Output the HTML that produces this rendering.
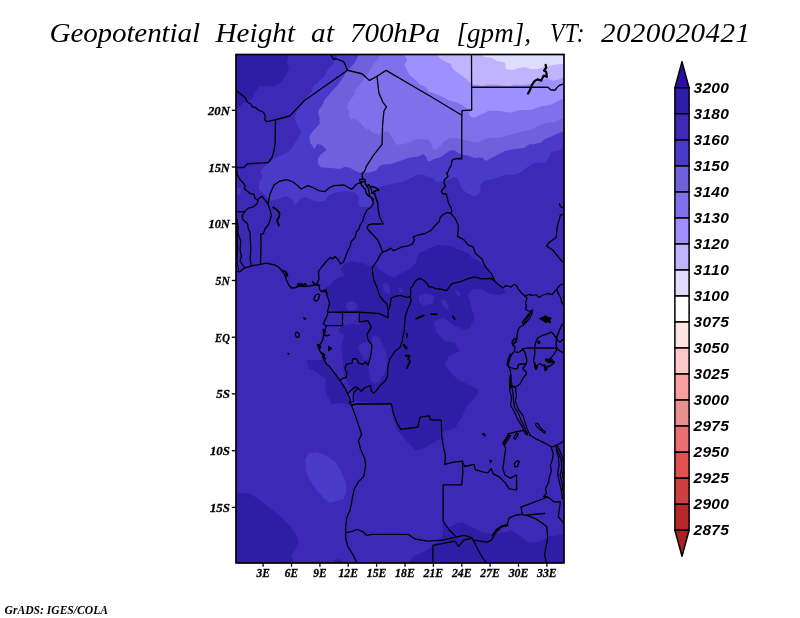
<!DOCTYPE html>
<html lang="en"><head><meta charset="utf-8"><title>Geopotential Height at 700hPa</title>
<style>
html,body{margin:0;padding:0;background:#fff;}
body{width:800px;height:618px;overflow:hidden;}
svg{display:block;}
.ttl{font-family:"Liberation Serif","DejaVu Serif",serif;font-style:italic;font-size:26.5px;fill:#000;}
.ax{font-family:"Liberation Serif","DejaVu Serif",serif;font-style:italic;font-weight:bold;font-size:13px;fill:#000;stroke:#000;stroke-width:0.3px;}
.cb{font-family:"Liberation Sans","DejaVu Sans",sans-serif;font-style:italic;font-weight:bold;font-size:15.5px;fill:#000;}
.ft{font-family:"Liberation Serif","DejaVu Serif",serif;font-style:italic;font-weight:bold;font-size:12.5px;fill:#000;}
</style></head><body>
<svg width="800" height="618" viewBox="0 0 800 618">
<rect x="0" y="0" width="800" height="618" fill="#fff"/>

<g class="ttl">
<text transform="translate(49.5,42) scale(1.1,1)" x="0" y="0" textLength="136.82" lengthAdjust="spacing">Geopotential</text>
<text transform="translate(215.5,42) scale(1.1,1)" x="0" y="0" textLength="72.27" lengthAdjust="spacing">Height</text>
<text transform="translate(311,42) scale(1.1,1)" x="0" y="0" textLength="20.91" lengthAdjust="spacing">at</text>
<text transform="translate(350,42) scale(1.1,1)" x="0" y="0" textLength="81.82" lengthAdjust="spacing">700hPa</text>
<text transform="translate(456.5,42) scale(1.02,1)" x="0" y="0" textLength="73.04" lengthAdjust="spacing">[gpm],</text>
<text transform="translate(550,42) scale(0.88,1)" x="0" y="0" textLength="39.20" lengthAdjust="spacing">VT:</text>
<text transform="translate(601,42) scale(1.1,1)" x="0" y="0" textLength="135.45" lengthAdjust="spacing">2020020421</text>
</g>
<clipPath id="mc"><rect x="236.0" y="54.5" width="328.0" height="508.5"/></clipPath>
<g clip-path="url(#mc)">
<rect x="236.0" y="54.5" width="328.0" height="508.5" fill="#3e29b7"/>
<polygon fill="#2e1ea6" points="235,54 289,54 287,62.5 289,69 286,75 282,81 277,85 271,86.5 259,86.5 255,92.5 251,100 246,101 240,106 235,111"/>
<polygon fill="#2e1ea6" points="344,264 351,261 363.7,263.8 371.2,266.6 376,265 379,269 384,272.5 389,276 395,277.5 399,274 406,271 411,267.5 416,262.5 417.5,256 420,252.5 425,251 431,247.5 437.5,245 450,246 457.5,249 462.5,251 470,254 470.1,256.6 478.6,260.9 485,267.2 491.4,275.7 495.6,282.1 502,288.5 506.2,292.7 499.9,294.9 489.2,293.8 480.7,288.5 472.3,289.6 468,294.9 470,302.7 474.4,317.6 470,328 463.7,329.3 455.2,326 442.5,317.6 434,321.9 436,332.5 444.6,341 455.2,343 459.5,351.6 448.9,355.9 444.6,364.4 451,372.9 457.4,379.2 470,385.6 478.6,389.9 476.2,396.4 467.7,404.9 461.4,417.6 455,428.2 442.2,432.5 440,438.9 425.2,447.4 415.7,450.6 408.2,443.1 397.6,430.4 393.4,419.7 391.4,403.6 368,402.5 355.2,400.4 351,387.6 344.6,377 342.5,362 350,362.5 358.75,361.25 362.5,360 371,359 372,350 372,342.5 367,339 367.5,333.75 372,327.5 370,323.75 365,325 362.5,328.75 360,325 360,313 342.5,312.2 329.7,310 329.5,303 328,297 325.5,292.5 322.5,290 326,287.5 330,285 334,280 337,278 341,276.5 345,277 343,273 340,269"/>
<polygon fill="#2e1ea6" points="338.75,328.75 343.75,325 352.5,323.75 360,325 362.5,328.75 365,325 370,323.75 372,327.5 367.5,333.75 366.25,338.75 367.5,341.25 360,343.75 358.1,347.5 361.25,352.5 365,356.25 362.5,360 358.75,361.25 355,358 352.5,360 350,362.5 345,363.75 342.5,360 341.9,352.5 341.25,347.5 342.5,341.25 345,336.25 341.25,333.75 338.75,331.25"/>
<polygon fill="#2e1ea6" points="306.4,360 308.5,368.5 317,372.7 325.5,379 325.5,392 331.9,404.6 342.5,402.5 350,405.7 346.7,392 338.2,379 329.7,368.5 323.4,360"/>
<polygon fill="#2e1ea6" points="235,492.3 249,493.4 259.6,499.7 270.2,508.2 280.9,516.7 289.4,525.2 295.7,533.7 298.9,542.2 295.7,548.6 291.5,555 293.6,564 235,564"/>
<polygon fill="#2e1ea6" points="442.5,521 448.9,527.4 456,523.75 462,522.25 466.5,524.5 472.5,527.5 478.5,530.5 486,533.5 493.5,533.5 507,532 511.5,529.75 516,533.5 522,537.25 526.5,541.75 534,542.5 543,540.25 549,535 553.5,536.5 559.5,534.25 565,535 565,564 408.5,564 412.7,557.1 425.5,550.7 434,544.4 442.5,535.9"/>
<polygon fill="#2e1ea6" points="332,564 334,560 339,559 343,561 344,564"/>
<polygon fill="#3e29b7" points="346,303 352,301 357,304 357,309 350,311 346,308"/>
<polygon fill="#3e29b7" points="372.5,336 379,337 382,344 386,352 387.5,362.5 385,372.5 380,381 375,384 370,380 368.5,372 368.5,365 370.5,358 372,350 372,342"/>
<polygon fill="#3e29b7" points="359,346 365,344 371,345 371,357 365,359 361,355 358.5,350"/>
<polygon fill="#3e29b7" points="419,296 426,293 434,296 433,303 424,306 419,302"/>
<polygon fill="#3e29b7" points="382.5,284 387,283 390,288 390,294 386,293 383,289"/>
<polygon fill="#3e29b7" points="398,287.5 401,287 403.5,290 402,293 399,291.5"/>
<polygon fill="#3e29b7" points="441,299 445,300 449,306 448,310 444,307 441.5,303"/>
<polygon fill="#3e29b7" points="455,290 458,291 461,295 459,296.5 456,294"/>
<polygon fill="#4a3aca" points="338,54 336,59 332,65 327,70 325,76 318,82 313,86 312,91 308,95.6 304.5,100 300,106 297,111 295,117 296,123 299,128 301.4,132.5 297,140 293,146 289.5,151 282,155 274.5,158 269.5,162.5 264,167 260,171 262.6,176 259,182 259,190 266,196 270,201 278,199 286,196 293,200 295,206 300,199 305,197 312,200 318,202 325,201 328,196 334,193 344,191 354,192 358.9,196.9 358.25,203.75 360.75,206.9 368.25,206.9 373.25,203.75 373,196 376,190 380,187 384.5,185.5 392,184 399.5,182.5 407,180 412,177.5 418,174.4 424.5,175 428,177.5 432,177.5 437,182.5 442,181 448,180 453,177.5 457.6,177.5 460,184 462,189 467,193 473,196 478,195 481,190 480,185 484.5,181 491,179.4 498,177.5 505,175 515,174.4 521,172 527.5,167 534,163 545,162.5 549,157.5 551,152 559,150.6 565,146 565,53"/>
<polygon fill="#4a3aca" points="236,188 239,187.5 241,190 240,194 237,195 236,193"/>
<polygon fill="#4a3aca" points="305.3,459.4 308.5,453 317,451.9 327.6,456.2 336.1,462.6 341.4,472.1 345.7,481.7 346.7,491.2 343.6,498.7 337.2,500.8 329.7,502.9 323.4,497.6 317,490.2 310.6,481.7 306.4,472.1"/>
<polygon fill="#7060dc" points="359,54 355.75,61 352,66 348,70 342,79 338,85 332,91 328,96 324.5,100 322,106 319.5,109 318,112.5 319.5,117.5 319.5,124 313,131 309.5,136 310,142.5 314.5,149 317,144 322,145 327,150 321,154 318,159 318,164 321,167.5 332,168 339.5,169 344.5,167 349.5,167.5 354.5,170.6 359.5,172.5 362,173 369.5,172.5 376,170.6 379.5,166 383,164.4 391,164 397,162 404,159.5 410,157.5 418,156.5 423,154 426,156.5 427,160 429,161.5 434,159 441,157 445,154 449,151 454,150 458,153 462,154.5 468,155.5 474.5,158 482,157.5 486,161 491,158 498,154.4 506,150.6 515,149 524,148 530,144 532.5,144.4 541,142.5 545,139 552.5,136 559,133 565,131 565,53"/>
<polygon fill="#8070ec" points="380,54 378,59 373,65 369.5,71 366,76 363,80 359,86 355,90 355,94 351,99 347.6,104 347,107.5 349,111 349,116 351,120 354,118 359,121 362,125 364.5,128 369.5,130 373,133 381,134 386,131 389.5,132.5 391,136 393,139 396,144.5 402,144.5 408,143 415,139.5 422,139 429,140 431.5,144 433,149 436,150 440,146.5 444,141.5 449,138.5 456,138 462,139.5 468,140.5 472,141.5 474.5,142.5 479.5,142 484.5,139 492,137.5 500,137.5 507.5,135.6 516,133 525,131 532.5,129 540,125 547.5,122.5 554,122 560,119.4 565,118 565,53"/>
<polygon fill="#a090ff" points="404,54 407,60 404.5,65 409.5,75 414.5,79 419.5,84 426,87.5 429,92 432,92.5 436,94 441,96 448,100 457,102.5 462,105 467,109 469.5,110 469,114 471,117 474.5,117.5 479.5,115 484.5,113 488,111 500,111 505,112 511,112.5 516,111 521,110 531,110 537.5,107.5 542.5,106 550,105 555,102.5 560,100 565,98 565,53"/>
<polygon fill="#c0b4ff" points="436,54 441,59 446,62 451,64 452,67.5 455,71 461,75 467,79.5 471,83 473,84.5 478,85 482,86 487,84.5 492,84.5 500,85 507.5,86 515,84.4 522.5,85 531,83.75 537.5,82 542.5,80 547.5,78 552.5,80.6 557.5,80 565,77 565,53"/>
<polygon fill="#e0dcff" points="481,54 484.5,57 491,57.5 497,61 505,62.5 506,69 512.5,70 519,68 525,67 531,69 537.5,69 544,67 550,65.6 556,64.4 565,63.75 565,53"/>
<g fill="none" stroke="#000" stroke-width="1.3" stroke-linejoin="round" stroke-linecap="round">
<polyline points="235.75,90.5 241,94.25 245.5,98 247,101.75 250.75,104 252.25,106.7 256,107.75 258.25,110 263.5,112.25 265.3,116 264.7,119.75 266.8,121.7 275.5,119.75 289.75,116 304.75,100.25 347.5,70.25"/>
<polyline points="330.25,54 333.25,59 337,59 343.75,61.7 347.5,70.25 362,73.75 369.5,80.4 377,76.25 386.1,70.4 432,97.25 461.4,115"/>
<polyline points="377,76.25 378.9,93.1 382,100 382.6,101.9 386.4,106.9 383.9,111.25 382.6,125 382,144.4 373.25,155.6 366.4,166.25 365,170 364,172 362.25,173 362.25,176 362.75,178.5"/>
<polyline points="471.5,54 471.7,110 462,110.6 461.75,125 461.75,158"/>
<polyline points="471.7,87.25 548,87.25 550.6,89.75 555,90.25 557.5,86.9 560,85 564,84"/>
<polyline stroke-width="2.2" points="545.6,64.75 546.25,67.5 544,70.6 546.25,71.9 546.9,76.9 543.75,75.6 541.25,80.6 537.5,79.4 534.4,81.25 531.9,85 530,90 528.1,93.5"/>
<polyline points="275.5,119.75 275.1,143.75 273.9,151.25 272,157.5 268.25,162.5 263.25,162.9 247.6,163.75 243.9,167.5 235.75,167.5"/>
<polyline points="236.4,167.5 237,173.75 239.5,178.75 243.9,183.75 245.1,186.25 244.5,188.75 249.5,193.1 253.9,194.4 255.1,198.75 258.25,200 257,203.75 253.25,206.9 248.25,208.1 244.5,211.9 238.25,211.9 235.75,211.25"/>
<polyline points="257,200 262,196.25 265,200 268,204 270,210 271.4,215 270.1,220 268.25,225 265.1,228.75 263.25,233.75 260.75,234.4 261,247.5 260.5,264.5"/>
<polyline points="268,204 270,194 274,185 280,181 287,179.6 293,182 297,185 301,189 308,185.6 314,188 319,190.6 325,191.6 329,188 334,185.6 344,185 350,188.5 352,189 354,187 356,184.5 358.5,183.25 360.75,183"/>
<polygon stroke-width="1.4" points="359.75,179.5 362.5,179 365,179.75 365.5,181.5 363,181.75 360.75,182 359.75,180.75"/>
<polyline stroke-width="1.5" points="360.75,182 361.5,185 363.5,187.5 365.5,189.5 366,192.5 367.5,195 370,196.5 372,198 373.5,200"/>
<polyline stroke-width="1.5" points="365,181.5 365.5,184 367,186 369,184.5 370,187 371.5,186.5 375,187.5 378.5,189.5 378.75,190.5 376,190.5 373.5,192 372,193 374.5,193.5 375.5,196 376,198.5 377.6,202.5"/>
<polyline stroke-width="1.4" points="367,186 368.5,189 369,192 369.5,194.5 370,196.5"/>
<polyline stroke-width="1.4" points="370,187 371.5,190 372,193"/>
<polyline points="370,196.5 372,198.75 373.25,203.75 370.75,207.5 367,210 364.5,215 362.6,221.25 360.1,225 358.9,229.4 356.4,231.9 355.1,237.5 351.4,241.25 350.1,246.25 347.6,251.25 345.75,256.25 345,258 343.5,262 340.5,264 338,259.5 335,256.5 332.5,259 330.5,257.5 327,260.5 322,266.5 318.5,271.5 319,279 316.5,285"/>
<polyline points="377.6,202.5 378.25,210 379.5,216.25 381.4,220.6 383.25,223.75 378.25,224 372,224 368.25,225 367,228.1 369.5,231.25 373.25,235 377.6,240 380.1,245 382,250.6 382.6,251.9"/>
<polyline points="244.5,211.9 242,216.25 243.25,220 247.6,223.75 248.25,228.75 250.1,232.5 250.75,250 250.1,258.75 251.4,265.5"/>
<polyline points="236.4,216.25 238.25,227.5 237.6,232.5 240.75,241.25 240.1,250 241.4,256.25 240.1,261.25 244.5,267.5"/>
<polyline stroke-width="1.0" points="236.8,225 237.6,245 237,262 238.5,270"/>
<polyline stroke-width="1.8" points="273.25,207.5 277,210 279.5,213.1 278.9,217.5 277,220 278.9,225.6"/>
<polyline points="235.75,270.5 239.5,271.9 244.75,267.8 253.25,265.5 260.75,264.4 266,263.2 270,264 275,265 279,267.5 282.5,271.5 285,275.5 286.5,280 288.5,284.5 291.5,288 296,287.5 299,286 305,286.5 310,285.8 314,285 316.5,285 319,286 319.5,289.5 321.5,291.5 324.5,291.5 326.5,293 327,296 328.5,299.5 329.5,303 328,310 327.6,312.25 327.6,314.7 325.6,319.1 323.2,323.4 324.7,324.9 326.5,325.5 325.6,328.3 323.2,331.2 323.7,335.1 323.2,338 321.7,341.9 319.8,344.8 317.4,344.3 318.8,348.7 320.8,352.6 323.2,355.5 322.7,357.9 325.1,361.3 326.6,364.2 328.75,365.6 335,373.75 340,380.6 345,388.1 347.5,393.75 350,398.75 350,402.5 351.9,406.25 353.75,411.25 355.25,415.25 359.5,428 361.6,434.4 358.4,440.75 360.6,449.25 364.8,458.8 365.6,466.25 363.75,476.4 358.4,481.7 354.2,489.1 352.1,499.75 350,510.4 346.75,517.8 345.7,527.4 345.7,538 347.8,546.5 353.1,555 357.4,563.5"/>
<polyline stroke-width="1.6" points="297,287 298.5,283.5 300,286 301.5,283.5 303,285.5 305,283.5 306.5,286"/>
<polyline stroke-width="1.6" points="283,270.5 285,271.5 287,273.5 287.5,276 285.5,274.5"/>
<polyline stroke-width="1.6" points="312.5,281.5 314.5,284 317.5,284.5 319.5,285.5"/>
<polyline stroke-width="1.5" points="323,291 326,290 327,293"/>
<polyline points="382.6,251.9 387,250.6 390.75,248.1 393.25,250.6 398.25,248.75 402,246.9 407,246.25 412,244.4 414.5,240 413.25,236.9 418.25,235 424.5,233.75 429.5,231.25 432,229.4 434,226.9 435.6,225 439.4,221.25 440,218.1 442.5,215 446.9,212.5 450.6,213.1 451.9,211.25 451.25,208.1 448.75,203.75 447.5,198.75 446.25,194 442.5,193.5 441.25,191.25 443.75,188.1 445.6,186.25 444,183.1 444.4,180 448.1,176.25 446.5,173.1 448.1,171.9 449.4,168.1 451.25,165.6 451.5,161.9 453.1,159.4 457.5,158.5 461.9,158.75"/>
<polyline points="382.6,251.9 379.5,256.25 377.6,260 372.25,267.6 373.3,278.25 377.6,288.9 380,296.5 383.75,301 387.1,304 387.5,308.5 388.25,310"/>
<polyline points="327.6,312.25 342.5,312.25 359.5,312.25 378.6,313.3 388.2,317.6 388.25,310 389.75,307 390.5,302.5 391.25,298 395,296.5 400.25,295.4 404.75,296.9 407.75,297.25 410.4,296.5 410.75,291.25 410.4,288.25 412.25,286.75 414.5,282.25 417.5,279.25 420.5,278.5 424.25,280.75 427.25,283.75 428.75,286.75 432.5,287.1 435.5,288.6 440,289 446.6,290.6 451.9,283.6 461.5,281.4 465.75,279.3 474.4,276.8 481.8,278.9 491.4,278.3 494.6,281.1"/>
<polyline points="342.5,312.25 342.5,325.6 325.5,325.6"/>
<polyline points="359.5,312.25 359.1,321.8 368,320.75 371.2,327.1 366.9,334.6 368,339.9 371.9,345 371.25,352.5 370,358.75 368.1,365 365.6,361.9 362.5,364.4 358.75,363.1 356.25,358.75 353.1,358.75 351.9,363.1 346.25,364.4 345,368.75 346.9,372.5 346.25,377.5 343.1,378.1 340,380.6"/>
<polyline points="410.4,296.5 411.1,300.25 409.6,304.75 408.3,307.8 405.7,314.2 404.4,324.6 404.4,331.1 402.5,337.5 402.5,340.5 400,347.5 395,351.25 390,358.75 388.1,365 387.5,376.25 385,381.25 380.6,385 377.5,389.4 373.75,393.1 371.25,391.25 370.6,385.6 365,387.5 361.25,391.25 358.1,388.1 355.6,386.9 351.25,390 347.5,393.75"/>
<polyline points="358.1,388.1 353.75,392.5 353.1,397.5 353.75,401.25 350,402.5"/>
<polyline points="450.6,213.1 455,218.1 458.1,225 458.4,229 457.4,236.4 463.75,239.6 468,244.9 473.3,247.1 475.4,253.4 481.8,258.75 485,266.2 491.4,273.6 494.6,281.1 496,282 499,285 503,288 506,285.5 511,287 514,284.5 516.5,285.5 518.5,289.5 522.5,294 525,296 529,294.5 533,295.5 536,294.5 539,297.5 543,295 548,293.5 552,294.5 556,290 560,285 564,283.5"/>
<polyline points="525,296 527,298 525.5,303 526.5,306 525.5,309.5 530,311.5 532.5,310"/>
<polyline points="523.5,325 520,327 518,330 517,335 517,339 515,342 512.5,344.5 515,347 514.5,351.5 517.5,352.5 520.5,351.5 522.5,349 526,348.2 535,348 556,348 560,351 564.5,353.5"/>
<polyline points="557,289.5 558,293 560.5,297 561.5,302 564.5,306"/>
<polyline points="563.6,214.1 560.4,215.2 557.25,226.9 556.2,237.5 548.75,242.8 546.6,246 553,250.25 557.25,255.6 561.5,260.9 564.7,263"/>
<polyline points="559.4,203.5 560.4,206.7 563.6,207.75"/>
<polygon points="532.5,310 531.5,315 529,319 525.5,323 523.5,325 522.5,322 526,317.5 529.5,313.5"/>
<polyline stroke-width="1.2" points="531.5,312 527.5,318 523.5,323.5"/>
<polygon points="512.5,344.5 512,342 514.5,338.5 517,339 516,342"/>
<polygon stroke-width="0.8" fill="#000" points="539.5,318.5 543,317 546,315.5 547.5,317 551.5,318 550,320 550.5,323 548,322 545,322.5 543,320.5 541,319.5"/>
<polyline points="564.5,322 561,326.5 558,334 556.5,338 554.3,335.3 551.3,332 548.4,333.4 542.6,335.3 537.7,338 535.8,342"/>
<polyline points="556.5,338 557,340 560,342 563,339.5 564.5,339"/>
<polyline points="535.8,342 535.5,343 534.5,348 535,353 534,358 533.5,361 534.5,363.5 535.5,369 537,368 537.5,365 540,363.5 542.5,365.5 545,365 545.5,369 545,370.5 547,369.5 547,366.5 550,366 553,364 554.5,362 552,361.5 549,362 546,360.5 545.5,359 549,359.5 552,357 554,354 556,351 557,348 556,344 556.5,338"/>
<polygon points="539,341 540,343 538.5,343.5 538,341.5"/>
<polygon stroke-width="0.8" fill="#000" points="546,360 549,360.5 552,359 554,362 550,363 547,362"/>
<polyline stroke-width="1.8" points="535,364 536,369 537,366"/>
<polyline stroke-width="1.8" points="544.5,366 545.5,370"/>
<polyline points="514.5,351.5 512,354 510,356.5 508.5,361 507.5,365 509,367 512.5,368 514.5,369 517.5,368.5 518.5,364.5 522,364 526,364 527,361 526,356.5 525,352.5 522.5,349"/>
<polyline stroke-width="2.6" points="510.5,355 509,359 507.8,364"/>
<polyline points="526,364 525,366 523,368 523.5,370 526,371.5 526.5,374 524,377 522,380 520,384 516,387 514,386.5"/>
<polyline points="509,367 510,370 511,375 510.5,380 509.5,386 511,388 514,386.5"/>
<polygon stroke-width="0.8" fill="#000" points="510.5,374 512,385 514,386.5 510,387.5 509.5,380"/>
<polyline stroke-width="1.2" points="509.8,386 509.6,389.7 511.5,397.5 510.6,405.2 514.4,412 517.4,418.8 522.2,426.6 525.1,433.4 527,435"/>
<polyline stroke-width="1.2" points="511.8,387 513,392.6 513.5,399.5 514.4,407 518.8,414 521.3,420.7 524.6,427.5 527.5,434.4"/>
<polyline stroke-width="1.2" points="514,386.5 515.4,387.8 516.4,395.5 515.4,401.4 518.3,409.1 523.2,415.9 525.1,422.7 527.1,428.5 530,435.3"/>
<polyline stroke-width="2.0" points="416.3,318.7 420,317 423.6,315.6"/>
<polyline stroke-width="2.0" points="431.4,314 436.6,314.2"/>
<polyline stroke-width="1.8" points="452.8,316.4 454.8,319.3"/>
<polyline stroke-width="1.6" points="407.4,333.9 406.7,337.3"/>
<polyline stroke-width="1.9" points="405.7,355.7 409.6,355.7 408.3,358.9 410.2,361.5 408.3,364.7 407,368"/>
<polyline stroke-width="2.4" points="404,345 406.3,348.3"/>
<polygon points="314,299 315.5,295 318.5,294 319.7,295.5 318,300 316,301.2 314,300"/>
<polygon points="299.3,334.9 299.1,336.8 297.8,337.6 296.2,336.8 295.3,334.9 295.5,333 296.8,332.2 298.4,333"/>
<polyline stroke-width="2" points="304.2,318.2 305.2,319"/>
<polyline stroke-width="1.6" points="288,353.5 288.8,354"/>
<polygon stroke-width="1" fill="#000" points="328.8,346.3 332,348.4 328.8,350.6"/>
<polyline points="351.9,405 357.5,403.75 368.75,404 391.25,403.75 393.4,413.4 396.6,421.9 400.8,429.3 409.3,428.25 417.8,427.2 419.9,417.2 429.5,415.9 430.1,419.75 441.2,420.2 441.8,436.75 443.3,446.3 445.4,455.9 444.8,464.4 452.9,462.25 462.4,461.2"/>
<polyline points="462.4,461.2 462.9,472.9 461.6,484.9 443.1,484.9 443.1,521 448.9,529.5 455.25,535.9"/>
<polyline points="462.4,461.2 464.6,466.5 474.1,464.4 475.2,469.7 482.6,471.8 487.9,472.9 491.1,468.6 493.25,473.9 499.6,477.1 504.9,482.4 509.2,488.8 516.6,489.9 516.6,475 510.25,478.2 504.9,475 502.8,468.6 504.7,455.7 505.7,448 503.8,445"/>
<polyline points="507.7,434 515.4,432 523.2,430.5 527.1,432.4"/>
<polygon stroke-width="1.2" points="502.8,443.1 507.7,435.3 510.6,435.3 504.7,445"/>
<polyline points="504,443.5 509,435.5"/>
<polygon stroke-width="1.2" points="513.5,438.3 516.4,433.4 518.3,434.4 515.4,439.2"/>
<polyline stroke-width="2.2" points="483.2,434 484.6,435"/>
<polygon points="514.4,463.5 517.4,460.6 519.3,461.6 517.4,466.4 514.8,467"/>
<polygon stroke-width="1.2" points="535.8,423.7 537.7,423.1 539.7,426.6 542.6,430.1 545.5,432 544.5,433.4 541.6,430.9 537.7,427.6 535.8,425.6"/>
<polygon stroke-width="1" fill="#000" points="490,460.4 491.8,460.6 490.8,462.6"/>
<polyline points="345.7,532.7 351,531.6 357.4,529.5 362.7,531.6 366.9,535.4 372.25,534.4 408.5,534.4 414.9,539 427.6,541.2 442.5,540.1 463.75,535.4 470.1,536.9 473.3,540.1"/>
<polyline points="432.9,564 432.9,545.4 455.25,541.2 458.4,546.5 463.75,540.1 472.25,538"/>
<polyline points="473.3,540.1 480.75,541.2 487.1,542.25 491.4,540.1 495.6,532.7 502,526.3 507.3,524.2 509.4,517.8 515.8,515 521.1,514.6"/>
<polyline stroke-width="2.0" points="492.75,535.5 496.5,529.75 501,526.75 507.75,525.25"/>
<polyline points="473.3,540.1 478.6,550.75 482.9,558.2 487.1,563.5"/>
<polyline points="521.1,507.2 547.7,497 543.6,496.5 546.5,493.6 545.5,488.7 548.4,482.9 549.4,477.1 551.3,471.3 550.4,465.4 552.3,459.6 553.3,453.8 551.3,447 546.5,444 540.7,441.2 534.8,438.3 530,435.3"/>
<polyline points="521.1,507.2 522.2,514.6 527.5,515.7 536,518.9 546.6,526.3 547.7,538 544.5,555 546.6,563.5"/>
<polyline stroke-width="1.5" points="526.4,515.2 535,514.2 544.5,513.4"/>
<polyline points="547.7,497 554.1,501.9 560.4,501.9 558.3,516.75 564.7,524.2"/>
<polyline points="551.3,447 555.2,446 557.2,445 564,441"/>
<polyline stroke-width="1.2" points="555.2,445 558.1,451.8 561,459.6 562,467.4 560.1,475.1 562,482.9 563,490.7 564.5,497.5"/>
<polyline stroke-width="1.2" points="557.2,445 560.2,451.8 563,459.6 564,467.4 562.5,475.1 564.2,482.9"/>
<polyline stroke-width="1.2" points="556,449 558.5,457.7 559.1,465.4 557.7,473.2 559.1,481 561,488.7 562.5,499"/>
<polyline stroke-width="1.6" points="323.7,335.1 327.6,335.6 329.5,335"/>
<polyline stroke-width="1.6" points="323,329.5 325.5,331 324,333"/>
<polyline stroke-width="1.8" points="318.5,345.5 320.5,346.5 319.5,348.5"/>
<polyline stroke-width="1.8" points="321.5,353 324.5,354.5 323.5,357 325.5,358.5"/>
</g></g>
<rect x="236.0" y="54.5" width="328.0" height="508.5" fill="none" stroke="#000" stroke-width="1.7"/>
<g stroke="#000" stroke-width="1.3">
<line x1="231.8" y1="110.3" x2="236.0" y2="110.3"/>
<line x1="231.8" y1="167.0" x2="236.0" y2="167.0"/>
<line x1="231.8" y1="223.7" x2="236.0" y2="223.7"/>
<line x1="231.8" y1="280.5" x2="236.0" y2="280.5"/>
<line x1="231.8" y1="337.2" x2="236.0" y2="337.2"/>
<line x1="231.8" y1="393.9" x2="236.0" y2="393.9"/>
<line x1="231.8" y1="450.7" x2="236.0" y2="450.7"/>
<line x1="231.8" y1="507.4" x2="236.0" y2="507.4"/>
<line x1="263.1" y1="563.0" x2="263.1" y2="566.8"/>
<line x1="291.5" y1="563.0" x2="291.5" y2="566.8"/>
<line x1="319.9" y1="563.0" x2="319.9" y2="566.8"/>
<line x1="348.2" y1="563.0" x2="348.2" y2="566.8"/>
<line x1="376.6" y1="563.0" x2="376.6" y2="566.8"/>
<line x1="405.0" y1="563.0" x2="405.0" y2="566.8"/>
<line x1="433.4" y1="563.0" x2="433.4" y2="566.8"/>
<line x1="461.8" y1="563.0" x2="461.8" y2="566.8"/>
<line x1="490.1" y1="563.0" x2="490.1" y2="566.8"/>
<line x1="518.5" y1="563.0" x2="518.5" y2="566.8"/>
<line x1="546.9" y1="563.0" x2="546.9" y2="566.8"/>
</g>
<g class="ax">
<text x="207.9" y="114.8" textLength="22" lengthAdjust="spacingAndGlyphs">20N</text>
<text x="208.4" y="171.5" textLength="21.5" lengthAdjust="spacingAndGlyphs">15N</text>
<text x="208.4" y="228.2" textLength="21.5" lengthAdjust="spacingAndGlyphs">10N</text>
<text x="215.6" y="285.0" textLength="14.3" lengthAdjust="spacingAndGlyphs">5N</text>
<text x="215.1" y="341.7" textLength="14.8" lengthAdjust="spacingAndGlyphs">EQ</text>
<text x="216.2" y="398.4" textLength="13.7" lengthAdjust="spacingAndGlyphs">5S</text>
<text x="209.9" y="455.2" textLength="20" lengthAdjust="spacingAndGlyphs">10S</text>
<text x="209.9" y="511.9" textLength="20" lengthAdjust="spacingAndGlyphs">15S</text>
<text x="256.5" y="577.4" textLength="13.3" lengthAdjust="spacingAndGlyphs">3E</text>
<text x="284.8" y="577.4" textLength="13.3" lengthAdjust="spacingAndGlyphs">6E</text>
<text x="313.2" y="577.4" textLength="13.3" lengthAdjust="spacingAndGlyphs">9E</text>
<text x="338.4" y="577.4" textLength="19.7" lengthAdjust="spacingAndGlyphs">12E</text>
<text x="366.8" y="577.4" textLength="19.7" lengthAdjust="spacingAndGlyphs">15E</text>
<text x="395.1" y="577.4" textLength="19.7" lengthAdjust="spacingAndGlyphs">18E</text>
<text x="423.5" y="577.4" textLength="19.7" lengthAdjust="spacingAndGlyphs">21E</text>
<text x="451.9" y="577.4" textLength="19.7" lengthAdjust="spacingAndGlyphs">24E</text>
<text x="480.3" y="577.4" textLength="19.7" lengthAdjust="spacingAndGlyphs">27E</text>
<text x="508.7" y="577.4" textLength="19.7" lengthAdjust="spacingAndGlyphs">30E</text>
<text x="537.0" y="577.4" textLength="19.7" lengthAdjust="spacingAndGlyphs">33E</text>
</g>
<g stroke="#000" stroke-width="1.5" stroke-linejoin="round">
<polygon points="674.9,87.85 682.0,61.6 689.1,87.85" fill="#2c0fa0"/>
<rect x="674.9" y="87.85" width="14.200000000000045" height="26.02" fill="#2e1ea6"/>
<rect x="674.9" y="113.87" width="14.200000000000045" height="26.02" fill="#3e29b7"/>
<rect x="674.9" y="139.89" width="14.200000000000045" height="26.02" fill="#4a3aca"/>
<rect x="674.9" y="165.91" width="14.200000000000045" height="26.02" fill="#7060dc"/>
<rect x="674.9" y="191.93" width="14.200000000000045" height="26.02" fill="#8070ec"/>
<rect x="674.9" y="217.95" width="14.200000000000045" height="26.02" fill="#a090ff"/>
<rect x="674.9" y="243.97" width="14.200000000000045" height="26.02" fill="#c0b4ff"/>
<rect x="674.9" y="269.99" width="14.200000000000045" height="26.02" fill="#e0dcff"/>
<rect x="674.9" y="296.01" width="14.200000000000045" height="26.02" fill="#ffffff"/>
<rect x="674.9" y="322.04" width="14.200000000000045" height="26.02" fill="#ffe4e4"/>
<rect x="674.9" y="348.06" width="14.200000000000045" height="26.02" fill="#ffc8c8"/>
<rect x="674.9" y="374.08" width="14.200000000000045" height="26.02" fill="#f8a0a0"/>
<rect x="674.9" y="400.10" width="14.200000000000045" height="26.02" fill="#e89090"/>
<rect x="674.9" y="426.12" width="14.200000000000045" height="26.02" fill="#e87070"/>
<rect x="674.9" y="452.14" width="14.200000000000045" height="26.02" fill="#e45050"/>
<rect x="674.9" y="478.16" width="14.200000000000045" height="26.02" fill="#cc4040"/>
<rect x="674.9" y="504.18" width="14.200000000000045" height="26.02" fill="#b82828"/>
<polygon points="674.9,530.20 682.0,556.2 689.1,530.20" fill="#a82024"/>
</g>
<g class="cb">
<text x="693.5" y="92.8" textLength="35.3" lengthAdjust="spacing">3200</text>
<text x="693.5" y="118.9" textLength="35.3" lengthAdjust="spacing">3180</text>
<text x="693.5" y="144.9" textLength="35.3" lengthAdjust="spacing">3160</text>
<text x="693.5" y="170.9" textLength="35.3" lengthAdjust="spacing">3150</text>
<text x="693.5" y="196.9" textLength="35.3" lengthAdjust="spacing">3140</text>
<text x="693.5" y="223.0" textLength="35.3" lengthAdjust="spacing">3130</text>
<text x="693.5" y="249.0" textLength="35.3" lengthAdjust="spacing">3120</text>
<text x="693.5" y="275.0" textLength="35.3" lengthAdjust="spacing">3110</text>
<text x="693.5" y="301.0" textLength="35.3" lengthAdjust="spacing">3100</text>
<text x="693.5" y="327.0" textLength="35.3" lengthAdjust="spacing">3075</text>
<text x="693.5" y="353.1" textLength="35.3" lengthAdjust="spacing">3050</text>
<text x="693.5" y="379.1" textLength="35.3" lengthAdjust="spacing">3025</text>
<text x="693.5" y="405.1" textLength="35.3" lengthAdjust="spacing">3000</text>
<text x="693.5" y="431.1" textLength="35.3" lengthAdjust="spacing">2975</text>
<text x="693.5" y="457.1" textLength="35.3" lengthAdjust="spacing">2950</text>
<text x="693.5" y="483.2" textLength="35.3" lengthAdjust="spacing">2925</text>
<text x="693.5" y="509.2" textLength="35.3" lengthAdjust="spacing">2900</text>
<text x="693.5" y="535.2" textLength="35.3" lengthAdjust="spacing">2875</text>
</g>
<text class="ft" x="4.5" y="614.4" textLength="103.5" lengthAdjust="spacingAndGlyphs">GrADS: IGES/COLA</text>
</svg></body></html>
